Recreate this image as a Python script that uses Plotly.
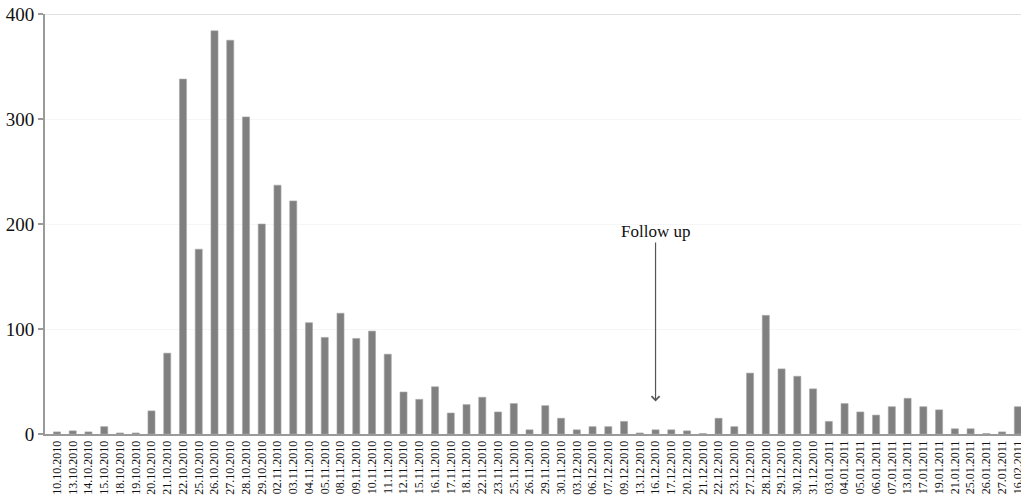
import plotly.graph_objects as go

dates = ["10.10.2010", "13.10.2010", "14.10.2010", "15.10.2010", "18.10.2010", "19.10.2010",
         "20.10.2010", "21.10.2010", "22.10.2010", "25.10.2010", "26.10.2010", "27.10.2010",
         "28.10.2010", "29.10.2010", "02.11.2010", "03.11.2010", "04.11.2010", "05.11.2010",
         "08.11.2010", "09.11.2010", "10.11.2010", "11.11.2010", "12.11.2010", "15.11.2010",
         "16.11.2010", "17.11.2010", "18.11.2010", "22.11.2010", "23.11.2010", "25.11.2010",
         "26.11.2010", "29.11.2010", "30.11.2010", "03.12.2010", "06.12.2010", "07.12.2010",
         "09.12.2010", "13.12.2010", "16.12.2010", "17.12.2010", "20.12.2010", "21.12.2010",
         "22.12.2010", "23.12.2010", "27.12.2010", "28.12.2010", "29.12.2010", "30.12.2010",
         "31.12.2010", "03.01.2011", "04.01.2011", "05.01.2011", "06.01.2011", "07.01.2011",
         "13.01.2011", "17.01.2011", "19.01.2011", "21.01.2011", "25.01.2011", "26.01.2011",
         "27.01.2011", "16.02.2011"]

counts = [2, 3, 2, 7, 1, 1,
          22, 77, 338, 176, 384, 375,
          302, 200, 237, 222, 106, 92,
          115, 91, 98, 76, 40, 33,
          45, 20, 28, 35, 21, 29,
          4, 27, 15, 4, 7, 7,
          12, 1, 4, 4, 3, 0.5,
          15, 7, 58, 113, 62, 55,
          43, 12, 29, 21, 18, 26,
          34, 26, 23, 5, 5, 0.5,
          2, 26]

y_ticks = [0, 100, 200, 300, 400]

annot_date = "16.12.2010"
annot_text = "Follow up"
annot_value = 31

x_idx = list(range(len(dates)))

fig = go.Figure()
fig.add_trace(go.Bar(
    x=x_idx, y=counts, width=0.45,
    marker=dict(color="#808080", line=dict(color="#a8a8a8", width=0.6)),
    showlegend=False,
))

fig.add_annotation(
    x=dates.index(annot_date), y=annot_value, xref="x", yref="y",
    text=annot_text, showarrow=True, arrowhead=4, arrowsize=1.3, arrowcolor="#555555",
    arrowwidth=1.2, ax=0, ay=-170,
    font=dict(family="Liberation Serif", size=17, color="#111111"),
)

fig.add_shape(type="line", xref="paper", yref="y", x0=0, x1=1, y0=400, y1=400,
              line=dict(color="#e2e2e2", width=2), layer="below")

fig.update_layout(
    width=1021, height=502,
    margin=dict(l=45, r=0, t=14, b=68),
    paper_bgcolor="white", plot_bgcolor="white",
    bargap=0.5,
    xaxis=dict(
        range=[-0.76, 61.2], tickmode="array", tickvals=x_idx, ticktext=dates,
        tickangle=-90, showgrid=False, zeroline=False, automargin=False,
        ticklabeloverflow="allow",
        showline=True, linecolor="#9a9a9a", linewidth=2,
        ticks="", tickfont=dict(family="Liberation Serif", size=12, color="#111111"),
    ),
    yaxis=dict(
        range=[0, 400], tickmode="array", tickvals=y_ticks, automargin=False,
        showgrid=True, gridcolor="#f6f6f6", zeroline=False,
        showline=True, linecolor="#9a9a9a", linewidth=2,
        ticks="outside", ticklen=5, tickcolor="#9a9a9a", tickwidth=2,
        tickfont=dict(family="Liberation Serif", size=19, color="#111111"),
    ),
)

fig.write_html(
    "out.html",
    config={"displayModeBar": False},
    post_script="document.body.style.margin='0px';document.body.style.overflow='hidden';",
)
